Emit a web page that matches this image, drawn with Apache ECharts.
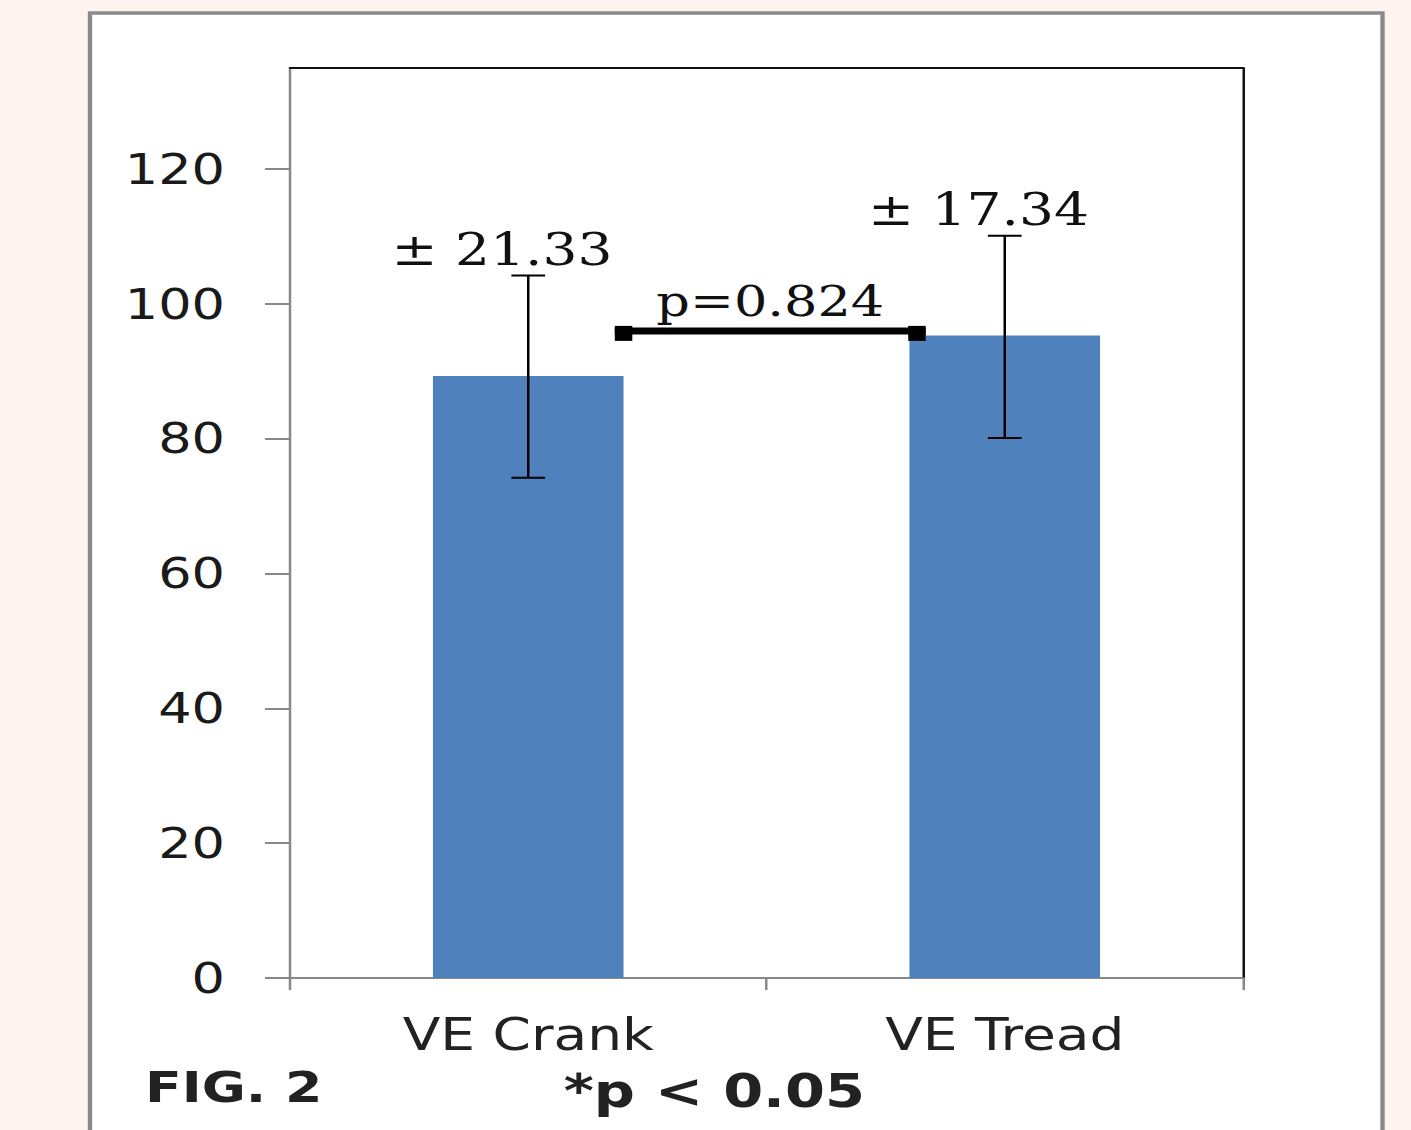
<!DOCTYPE html>
<html>
<head>
<meta charset="utf-8">
<script src="https://cdn.jsdelivr.net/npm/echarts@6/dist/echarts.min.js"></script>
<style>
  html, body { margin: 0; padding: 0; background: #fdf4ef; overflow: hidden; }
  /* the figure is stretched horizontally, so draw narrow and scale */
  #chart { width: 1128.8px; height: 1130px; transform: scaleX(1.25); transform-origin: 0 0; }
</style>
</head>
<body>
<div id="chart"></div>
<script>
// data
var categories = ['VE Crank', 'VE Tread']
var means = [89.3, 95.3]
var errLow = [74.2, 80.1]
var errHigh = [104.2, 110.1]
var errLabels = ['± 21.33', '± 17.34']
var pLabel = 'p=0.824'
var bracketLevel = 96
var yTicks = [0, 20, 40, 60, 80, 100, 120]
var yMax = 135

var chart = echarts.init(document.getElementById('chart'), null, { renderer: 'svg' })

var errData = categories.map(function (c, i) {
	return [i, errLow[i], errHigh[i], errLabels[i]]
})

chart.setOption({
	backgroundColor: '#fdf4ef',
	animation: false,
	graphic: [
		{
			type: 'rect',
			z: -10,
			shape: { x: 72, y: 13, width: 1034, height: 1200 },
			style: { fill: '#fff', stroke: '#8a8a8a', lineWidth: 3.5 }
		},
		{
			type: 'text',
			left: 116,
			top: 1065,
			style: { text: 'FIG. 2', font: 'bold 43px "DejaVu Sans"', fill: '#222' }
		},
		{
			type: 'text',
			left: 451,
			top: 1068,
			style: { text: '*p < 0.05', font: 'bold 46px "DejaVu Sans"', fill: '#222' }
		}
	],
	grid: {
		left: 232,
		top: 68,
		width: 762.4,
		bottom: 152
	},
	xAxis: [
		{
			type: 'category',
			data: categories,
			axisLine: { onZero: false, lineStyle: { color: '#888', width: 2 } },
			axisTick: { show: true, length: 12, lineStyle: { color: '#888', width: 2 } },
			axisLabel: {
				margin: 35,
				fontFamily: 'DejaVu Sans',
				fontSize: 44,
				color: '#222'
			}
		},
		{
			type: 'category',
			position: 'top',
			data: categories,
			axisLine: { onZero: false, lineStyle: { color: '#111', width: 2 } },
			axisTick: { show: false },
			axisLabel: { show: false }
		}
	],
	yAxis: [
		{
			type: 'value',
			min: 0,
			max: yMax,
			interval: 20,
			splitLine: { show: false },
			axisLine: { show: true, onZero: false, lineStyle: { color: '#888', width: 2 } },
			axisTick: { show: true, length: 20, customValues: yTicks, lineStyle: { color: '#888', width: 2 } },
			axisLabel: {
				customValues: yTicks,
				margin: 52,
				fontFamily: 'DejaVu Sans',
				fontSize: 42,
				color: '#1a1a1a'
			}
		},
		{
			type: 'value',
			position: 'right',
			min: 0,
			max: yMax,
			splitLine: { show: false },
			axisLine: { show: true, onZero: false, lineStyle: { color: '#111', width: 2 } },
			axisTick: { show: false },
			axisLabel: { show: false }
		}
	],
	series: [
		{
			type: 'bar',
			data: means,
			barWidth: '40%',
			itemStyle: { color: '#4f81bd' }
		},
		{
			// error bars with their labels
			type: 'custom',
			data: errData,
			encode: { x: 0, y: [1, 2] },
			z: 5,
			renderItem: function (params, api) {
				var i = api.value(0)
				var lo = api.coord([i, api.value(1)])
				var hi = api.coord([i, api.value(2)])
				var cap = 13.5
				var st = { stroke: '#000', lineWidth: 2 }
				return {
					type: 'group',
					children: [
						{ type: 'line', shape: { x1: hi[0], y1: hi[1], x2: lo[0], y2: lo[1] }, style: st },
						{ type: 'line', shape: { x1: hi[0] - cap, y1: hi[1], x2: hi[0] + cap, y2: hi[1] }, style: st },
						{ type: 'line', shape: { x1: lo[0] - cap, y1: lo[1], x2: lo[0] + cap, y2: lo[1] }, style: st },
						{
							type: 'text',
							x: hi[0] - 21,
							y: hi[1] - 4,
							style: {
								text: errLabels[params.dataIndex],
								font: '44px "DejaVu Serif"',
								fill: '#111',
								align: 'center',
								verticalAlign: 'bottom'
							}
						}
					]
				}
			}
		},
		{
			// significance bracket
			type: 'custom',
			data: [[0, 1, bracketLevel]],
			encode: { x: [0, 1], y: 2 },
			z: 6,
			renderItem: function (params, api) {
				var a = api.coord([api.value(0), api.value(2)])
				var b = api.coord([api.value(1), api.value(2)])
				var band = api.size([1, 0])[0]
				var x0 = a[0] + band * 0.2 - 7
				var x1 = b[0] - band * 0.2 + 13
				var y = a[1]
				return {
					type: 'group',
					children: [
						{ type: 'line', shape: { x1: x0, y1: y, x2: x1, y2: y }, style: { stroke: '#000', lineWidth: 7 } },
						{ type: 'rect', shape: { x: x0, y: y - 5, width: 14, height: 15 }, style: { fill: '#000' } },
						{ type: 'rect', shape: { x: x1 - 14, y: y - 5, width: 14, height: 15 }, style: { fill: '#000' } },
						{
							type: 'text',
							x: (x0 + x1) / 2,
							y: y - 8,
							style: {
								text: pLabel,
								font: '42px "DejaVu Serif"',
								fill: '#111',
								align: 'center',
								verticalAlign: 'bottom'
							}
						}
					]
				}
			}
		}
	]
})
</script>
</body>
</html>
